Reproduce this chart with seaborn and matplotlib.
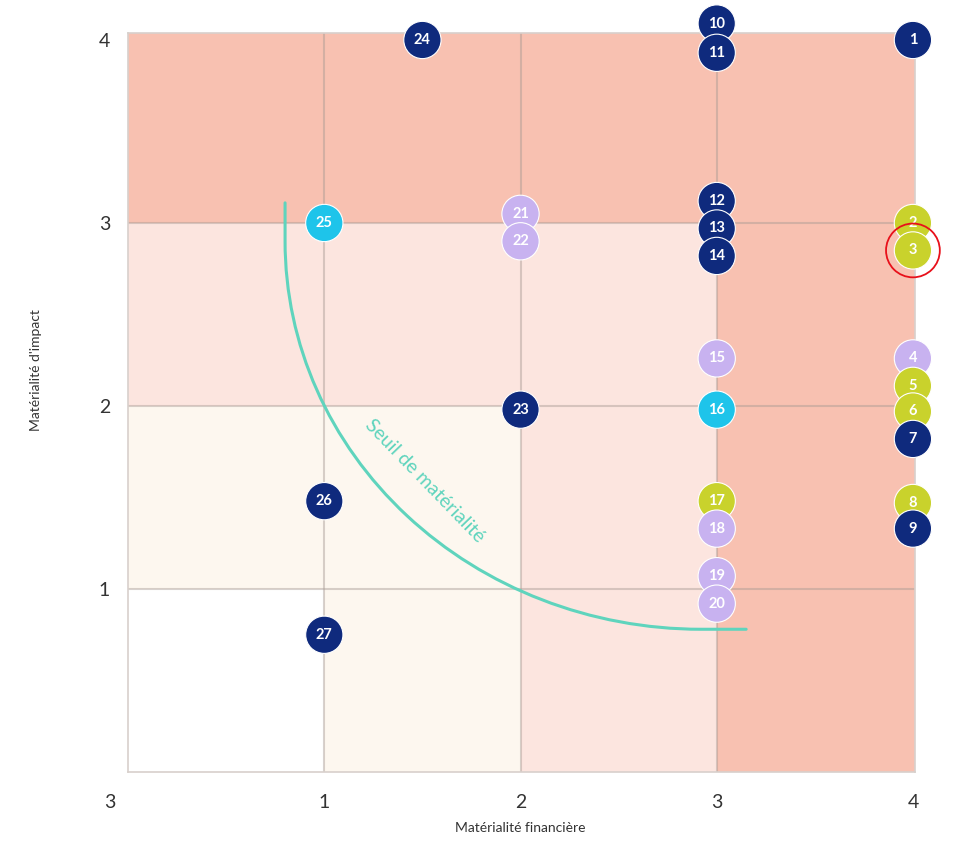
import numpy as np
import pandas as pd
import matplotlib.pyplot as plt
import matplotlib.transforms as mtransforms
from matplotlib.patches import Rectangle, PathPatch
from matplotlib.path import Path
import seaborn as sns

# enjeux : numéro, matérialité financière, matérialité d'impact, groupe
numeros = list(range(1, 28))
financiere = [4, 4, 4, 4, 4, 4, 4, 4, 4,
              3, 3, 3, 3, 3, 3, 3, 3, 3, 3, 3,
              2, 2, 2, 1.5, 1, 1, 1]
impact = [4.0, 3.0, 2.85, 2.26, 2.11, 1.97, 1.82, 1.47, 1.33,
          4.09, 3.93, 3.12, 2.97, 2.82, 2.26, 1.98, 1.48, 1.33, 1.07, 0.92,
          3.05, 2.90, 1.98, 4.0, 3.0, 1.48, 0.75]
groupe = ['marine', 'vert', 'vert', 'lavande', 'vert', 'vert', 'marine', 'vert', 'marine',
          'marine', 'marine', 'marine', 'marine', 'marine', 'lavande', 'cyan', 'vert', 'lavande',
          'lavande', 'lavande', 'lavande', 'lavande', 'marine', 'marine', 'cyan', 'marine', 'marine']

couleurs = {'marine': '#0f2a7d', 'vert': '#c9d22c', 'lavande': '#c8b2f0', 'cyan': '#1ec4ea'}

# zones de fond : (x0, y0, largeur, hauteur, couleur)
zones = [
    (0, 1, 2, 1, '#fdf7ef'),
    (1, 0, 1, 1, '#fdf7ef'),
    (0, 2, 3, 1, '#fce5df'),
    (2, 0, 1, 2, '#fce5df'),
    (0, 3, 4.1, 1.1, '#f8c1b1'),
    (3, 0, 1.1, 3, '#f8c1b1'),
]

# seuil de matérialité : quart de cercle + deux segments droits
seuil_centre = (2.92, 2.90)
seuil_rayon = 2.12
seuil_haut = 3.11
seuil_fin = 3.15

ticks_x = [0, 1, 2, 3, 4]
labels_x = ['3', '1', '2', '3', '4']
ticks_y = [1, 2, 3, 4]

df = pd.DataFrame({'num': numeros, 'financiere': financiere,
                   'impact': impact, 'groupe': groupe})

sns.set_style("white")
plt.rcParams['font.family'] = ['Lato', 'DejaVu Sans']

fig = plt.figure(figsize=(9.56, 8.44), dpi=100)
ax = fig.add_axes([0.134, 0.0853, 0.823, 0.876])

for x0, y0, w, h, c in zones:
    ax.add_patch(Rectangle((x0, y0), w, h, facecolor=c, edgecolor='none', zorder=0))

for v in [1, 2, 3]:
    ax.axvline(v, color='#a89a94', alpha=0.45, lw=1.5, zorder=1)
    ax.axhline(v, color='#a89a94', alpha=0.45, lw=1.5, zorder=1)

# courbe du seuil en un seul tracé (pas de raccord visible)
teal = '#5fd4bd'
cx, cy = seuil_centre
r = seuil_rayon
arc = Path.arc(180, 270)
arc = arc.transformed(mtransforms.Affine2D().scale(r).translate(cx, cy))
verts = np.vstack([[[cx - r, seuil_haut]], arc.vertices, [[seuil_fin, cy - r]]])
codes = [Path.MOVETO, Path.LINETO] + list(arc.codes[1:]) + [Path.LINETO]
ax.add_patch(PathPatch(Path(verts, codes), fill=False, edgecolor=teal,
                       lw=2.2, zorder=2, capstyle='round'))
ax.text(1.51, 1.59, 'Seuil de matérialité', color=teal, fontsize=14,
        rotation=-46, ha='center', va='center', zorder=2)

sns.scatterplot(data=df, x='financiere', y='impact', hue='groupe', palette=couleurs,
                s=720, edgecolor='white', linewidth=0.8, legend=False,
                ax=ax, zorder=3, clip_on=False)

for n, x, y in zip(numeros, financiere, impact):
    ax.text(x, y, str(n), color='white', fontsize=10.5, fontweight='bold',
            ha='center', va='center', zorder=4, clip_on=False)

# enjeu 3 entouré
ax.scatter([financiere[2]], [impact[2]], s=1500, facecolors='none',
           edgecolors='#e8101a', linewidths=1.3, zorder=5, clip_on=False)

ax.set_xlim(0, 4.01)
ax.set_ylim(0, 4.04)
ax.set_xticks(ticks_x)
ax.set_xticklabels(labels_x)
ax.set_yticks(ticks_y)
ax.set_yticklabels([str(t) for t in ticks_y])
ax.tick_params(axis='both', length=0, labelsize=14, labelcolor='#333333')
ax.tick_params(axis='x', pad=16)
ax.tick_params(axis='y', pad=13)
first = ax.get_xticklabels()[0]
first.set_transform(first.get_transform() +
                    mtransforms.ScaledTranslation(-18 / 100, 0, fig.dpi_scale_trans))

for sp in ax.spines.values():
    sp.set_color('#d8d0cc')
    sp.set_linewidth(1.2)

ax.set_xlabel('Matérialité financière', fontsize=10, color='#333333')
ax.set_ylabel("Matérialité d'impact", fontsize=10, color='#333333')
ax.xaxis.set_label_coords(0.498, -0.068)
ax.yaxis.set_label_coords(-0.11, 0.544)

fig.savefig('out.png', dpi=100)
